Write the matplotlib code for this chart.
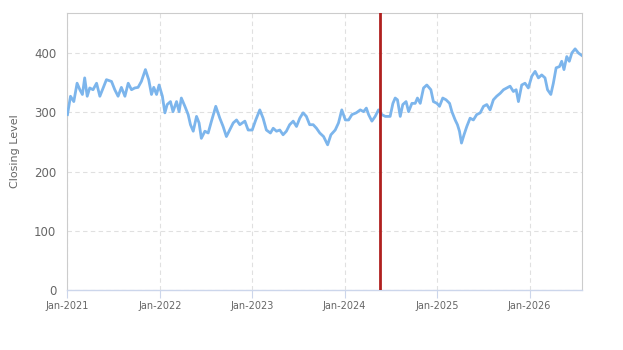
import numpy as np
import pandas as pd
import matplotlib
matplotlib.use("Agg")
import matplotlib.pyplot as plt
import matplotlib.dates as mdates

# days since 2021-01-01 and closing level
days = [0, 12, 25, 38, 49, 59, 68, 78, 88, 101, 115, 128, 141, 154, 174, 187, 200, 213, 227, 240,
        253, 266, 279, 292, 308, 321, 332, 341, 352, 362, 375, 385, 394, 407, 417, 431, 441, 450, 464, 477,
        486, 497, 510, 520, 529, 543, 556, 569, 586, 602, 615, 628, 641, 655, 668, 681, 701, 714, 730, 744,
        760, 773, 786, 802, 813, 826, 839, 852, 865, 878, 892, 905, 918, 931, 944, 957, 971, 984, 997, 1012,
        1028, 1041, 1058, 1071, 1084, 1098, 1111, 1124, 1141, 1157, 1170, 1181, 1190, 1203, 1216, 1229, 1242, 1256, 1275, 1286,
        1295, 1304, 1315, 1325, 1338, 1348, 1361, 1374, 1383, 1394, 1407, 1420, 1436, 1446, 1460, 1470, 1483, 1496, 1510, 1519,
        1532, 1541, 1549, 1557, 1567, 1578, 1591, 1604, 1617, 1631, 1644, 1657, 1670, 1683, 1696, 1710, 1723, 1736, 1749, 1762,
        1773, 1782, 1795, 1808, 1821, 1835, 1848, 1861, 1874, 1887, 1897, 1910, 1920, 1931, 1944, 1953, 1962, 1973, 1983, 1993,
        2006, 2019, 2032]
closing = [296, 327, 318, 349, 338, 330, 358, 327, 341, 338, 349, 327, 341, 355, 352, 338, 327, 342, 327, 349,
           338, 341, 342, 352, 372, 355, 330, 342, 330, 346, 327, 299, 313, 318, 301, 318, 301, 324, 310, 296,
           279, 268, 293, 282, 256, 268, 265, 285, 310, 290, 276, 259, 270, 282, 287, 279, 285, 270, 270, 287,
           304, 290, 270, 265, 273, 268, 270, 262, 268, 279, 285, 276, 290, 299, 293, 279, 279, 273, 265, 259,
           245, 262, 270, 282, 304, 287, 287, 296, 299, 304, 301, 307, 296, 285, 293, 304, 296, 293, 293, 315,
           324, 321, 293, 313, 318, 301, 315, 315, 324, 315, 341, 346, 338, 318, 315, 310, 324, 321, 315, 301,
           287, 279, 268, 248, 262, 276, 290, 287, 296, 299, 310, 313, 304, 321, 327, 332, 338, 341, 344, 335,
           338, 318, 346, 349, 341, 361, 369, 358, 363, 358, 338, 330, 349, 375, 377, 386, 372, 394, 386, 400,
           407, 400, 396]
marker_date = "2024-05-20"
y_ticks = [0, 100, 200, 300, 400]

start = pd.Timestamp("2021-01-01")
dates = start + pd.to_timedelta(days, unit="D")

fig = plt.figure(figsize=(6.23, 3.5), dpi=100)
ax = fig.add_axes([0.1083, 0.1714, 0.8254, 0.7923])

ax.plot(dates, closing, color="#7cb5ec", lw=2, solid_joinstyle="round", zorder=3)
ax.axvline(pd.Timestamp(marker_date), color="#b0201f", lw=2, zorder=4)

ax.set_xlim(dates[0], dates[-1])
ax.set_ylim(0, 468)
ax.set_yticks(y_ticks)
ax.xaxis.set_major_locator(mdates.YearLocator(month=1, day=1))
ax.xaxis.set_major_formatter(mdates.DateFormatter("%b-%Y"))

ax.grid(True, color="#e0e0e0", ls=(0, (4, 3)), lw=0.8)
ax.set_axisbelow(True)
for side in ["top", "right", "left"]:
    ax.spines[side].set_color("#cccccc")
    ax.spines[side].set_linewidth(0.8)
ax.spines["bottom"].set_color("#ccd6eb")
ax.spines["bottom"].set_linewidth(1)

ax.tick_params(axis="y", length=0, pad=8, labelsize=8.5, labelcolor="#666666")
ax.tick_params(axis="x", length=6, width=0.8, color="#ccd6eb", pad=2, labelsize=7, labelcolor="#666666")
ax.set_ylabel("Closing Level", fontsize=8, color="#666666", labelpad=10)

fig.savefig("out.png", dpi=100)
